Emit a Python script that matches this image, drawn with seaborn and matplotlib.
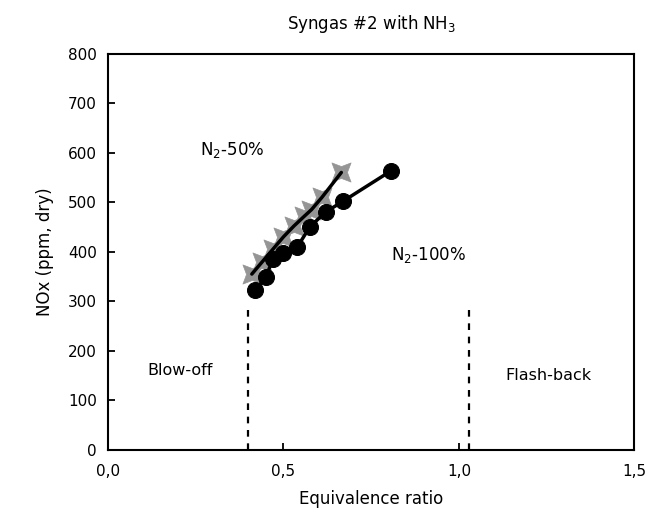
import matplotlib
matplotlib.use("Agg")
import matplotlib.pyplot as plt
import seaborn as sns
import pandas as pd
from matplotlib.ticker import FuncFormatter, MultipleLocator
from matplotlib.path import Path

sns.set_style("white")
plt.rcParams['font.family'] = ['DejaVu Sans']
plt.rcParams['text.color'] = 'black'
plt.rcParams['axes.labelcolor'] = 'black'

# N2-50% series (gray concave-square markers)
phi_50 = [0.41, 0.44, 0.47, 0.50, 0.53, 0.56, 0.58, 0.61, 0.665]
nox_50 = [355, 380, 405, 430, 452, 472, 485, 510, 560]

# N2-100% series (black circles)
phi_100 = [0.42, 0.45, 0.47, 0.50, 0.54, 0.575, 0.62, 0.67, 0.806]
nox_100 = [322, 349, 385, 398, 410, 450, 480, 502, 563]

blowoff_phi = 0.40
flashback_phi = 1.03
limit_top = 285

df50 = pd.DataFrame({"phi": phi_50, "nox": nox_50})
df100 = pd.DataFrame({"phi": phi_100, "nox": nox_100})

# concave square marker
cs = Path([(-1, -1), (0, -0.62), (1, -1), (0.62, 0), (1, 1), (0, 0.62),
           (-1, 1), (-0.62, 0), (-1, -1)],
          [Path.MOVETO] + [Path.LINETO] * 7 + [Path.CLOSEPOLY])

fig = plt.figure(figsize=(6.49, 5.20), dpi=100)
ax = fig.add_axes([0.1663, 0.1346, 0.8112, 0.7625])

sns.scatterplot(data=df50, x="phi", y="nox", ax=ax, marker=cs, s=190,
                color="#959595", edgecolor="#959595", linewidth=0.5, zorder=2)
sns.lineplot(data=df50, x="phi", y="nox", ax=ax, color="black", lw=2.5, zorder=3)
sns.lineplot(data=df100, x="phi", y="nox", ax=ax, color="black", lw=2.5,
             marker="o", markersize=11.5, markeredgecolor="black", zorder=4)

ax.vlines([blowoff_phi, flashback_phi], 0, limit_top, colors="black",
          linestyles=(0, (3, 3)), lw=1.6)

ax.set_xlim(0, 1.5)
ax.set_ylim(0, 800)
ax.xaxis.set_major_locator(MultipleLocator(0.5))
ax.yaxis.set_major_locator(MultipleLocator(100))
ax.xaxis.set_major_formatter(FuncFormatter(lambda v, p: f"{v:.1f}".replace(".", ",")))
ax.tick_params(direction="in", length=5, width=1.3, labelsize=11, colors="black",
               bottom=True, left=True, top=False, right=False)
ax.tick_params(axis="x", pad=10)
ax.tick_params(axis="y", pad=8)
for s in ax.spines.values():
    s.set_linewidth(1.5)
    s.set_color("black")

ax.set_xlabel("Equivalence ratio", fontsize=12, labelpad=8)
ax.set_ylabel("NOx (ppm, dry)", fontsize=12, labelpad=10)
ax.set_title("Syngas #2 with NH$_3$", fontsize=12, pad=18, color="black")

ax.text(0.354, 605, "N$_2$-50%", fontsize=12, ha="center", va="center")
ax.text(0.912, 393, "N$_2$-100%", fontsize=12, ha="center", va="center")
ax.text(0.205, 161, "Blow-off", fontsize=11.5, ha="center", va="center")
ax.text(1.254, 151, "Flash-back", fontsize=11.5, ha="center", va="center")

fig.savefig("out.png", dpi=100)
